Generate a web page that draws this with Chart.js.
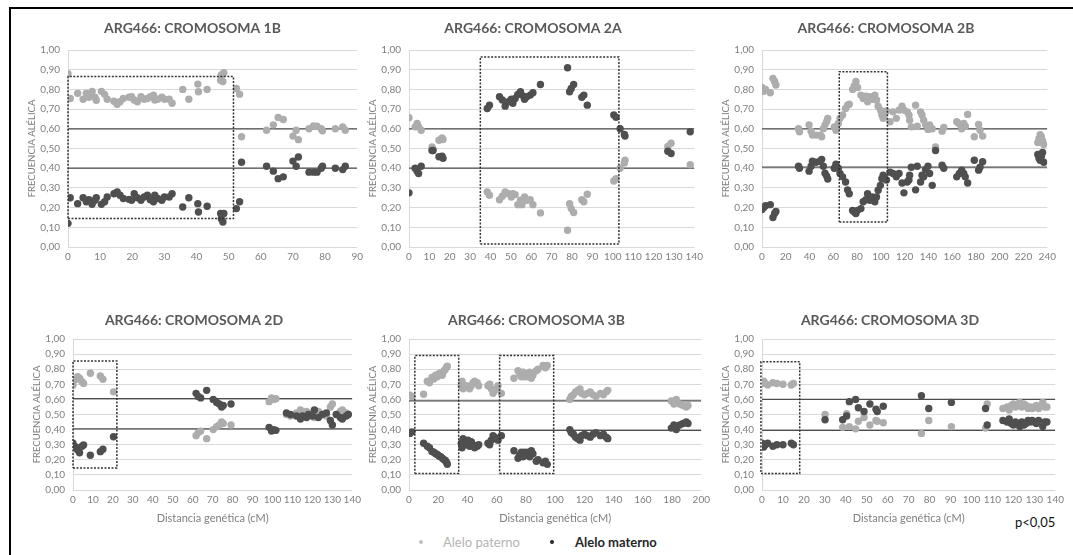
<!DOCTYPE html>
<html lang="es">
<head>
<meta charset="utf-8">
<title>ARG466: frecuencia alélica por cromosoma</title>
<script src="https://cdn.jsdelivr.net/npm/chart.js@4.4.1/dist/chart.umd.min.js"></script>
<style>
  html, body { margin: 0; padding: 0; background: #fff; }
  body { width: 1073px; height: 555px; position: relative; overflow: hidden; font-family: Lato, 'Open Sans', sans-serif; }
  .frame { position: absolute; left: 9px; top: 7px; width: 1080px; height: 560px; border-left: 2px solid #000; border-top: 2px solid #000; }
  .lg { position: absolute; font-size: 13px; line-height: 16px; white-space: nowrap; }
  .dot { position: absolute; width: 4px; height: 4px; border-radius: 50%; }
</style>
</head>
<body>
<div class="frame"></div>

<span class="dot" style="left:419px;top:540px;background:#bfbfbf"></span>
<span class="lg" style="left:443px;top:534px;color:#b4b4b4">Alelo paterno</span>
<span class="dot" style="left:550px;top:540px;background:#262626"></span>
<span class="lg" style="left:575px;top:534px;color:#262626;font-weight:bold">Alelo materno</span>
<span class="lg" style="left:1015px;top:514px;color:#111">p&lt;0,05</span>

<script>
// ---- data ----
const titles = ['ARG466: CROMOSOMA 1B', 'ARG466: CROMOSOMA 2A', 'ARG466: CROMOSOMA 2B',
                'ARG466: CROMOSOMA 2D', 'ARG466: CROMOSOMA 3B', 'ARG466: CROMOSOMA 3D'];
const yTitles = ['FRECUENCIA ALÉLICA', 'FRECUENCIA ALÉLICA', 'FRECUENCIA ALÉLICA',
                 'FRECUENCIA ALÉLICA', 'FRECUECNIA ALÉLICA', 'FRECUENCIA ALÉLICA'];
const xTitle = 'Distancia genética (cM)';
const xMax   = [90, 140, 240, 140, 200, 140];
const xStep  = [10, 10, 20, 10, 20, 10];
const yTicks = [0, 0.1, 0.2, 0.3, 0.4, 0.5, 0.6, 0.7, 0.8, 0.9, 1];

// chromosome 1B
const x1B   = [0,0.7,3,4.7,5.7,6.5,7.5,8.4,8.8,10.4, 11.4,12.2,14.3,15.3,16.2,17.2,19,19.8,20.6,21.6,
               22.7,23.7,24.7,25.6,26.6,27,27.9,29.2,30,31.5, 32.4,35.7,37.6,40.4,40.6,43.3,47.5,47.7,48.2,48.5,
               52.4,53.4,54,61.8,63.9,65.4,67,70,71,71.7, 75,76.4,77.5,78.8,79.2,83.2,85.5,86.3];
const pat1B = [0.88,0.754,0.78,0.75,0.78,0.76,0.79,0.76,0.745,0.79, 0.775,0.75,0.74,0.725,0.737,0.754,0.76,0.763,0.746,0.737,
               0.763,0.75,0.754,0.763,0.77,0.746,0.75,0.76,0.75,0.75, 0.73,0.8,0.75,0.827,0.788,0.8,0.847,0.873,0.84,0.885,
               0.805,0.776,0.56,0.593,0.62,0.657,0.647,0.563,0.593,0.545, 0.6,0.615,0.613,0.6,0.59,0.6,0.61,0.593];
const mat1B = [0.12,0.25,0.22,0.25,0.23,0.24,0.217,0.237,0.25,0.217, 0.23,0.254,0.27,0.28,0.263,0.246,0.242,0.237,0.27,0.25,
               0.237,0.254,0.263,0.24,0.23,0.263,0.246,0.237,0.254,0.254, 0.27,0.203,0.25,0.22,0.178,0.207,0.17,0.144,0.127,0.17,
               0.195,0.23,0.43,0.41,0.385,0.347,0.356,0.436,0.41,0.457, 0.38,0.38,0.38,0.4,0.41,0.4,0.393,0.41];

// chromosome 2A
const x2A   = [0,3,4,4.7,6,11.3,11.8,14.7,16.2,16.7, 38.4,39.5,44.4,45.8,47.2,48.9,50.2,51,52.1,53.4,
               54.7,55.4,56.7,57.8,59.5,60.8,64.5,77.8,78.8,79.6, 80.8,84.8,85.8,87.5,100.5,101.6,103.6,105.7,106,127,
               128.6,138];
const pat2A = [0.656,0.61,0.627,0.61,0.593,0.508,0.497,0.542,0.554,0.546, 0.28,0.263,0.24,0.258,0.28,0.27,0.254,0.27,0.266,0.215,
               0.237,0.215,0.254,0.237,0.24,0.215,0.173,0.085,0.22,0.195, 0.175,0.24,0.23,0.268,0.335,0.347,0.4,0.427,0.44,0.51,
               0.527,0.418];
const mat2A = [0.275,0.4,0.385,0.373,0.41,0.49,0.49,0.458,0.461,0.45, 0.703,0.72,0.763,0.746,0.715,0.737,0.75,0.73,0.754,0.775,
               0.788,0.771,0.75,0.763,0.771,0.783,0.825,0.91,0.788,0.805, 0.825,0.76,0.771,0.72,0.67,0.658,0.6,0.571,0.563,0.486,
               0.475,0.585];

// chromosome 2B
const x2B   = [0,1.4,3,7,9.2,10.6,11.7, 30.7,31.5,
               39.6,41.3,42.4,45.5,48.8,50.2,51.6,53,54.4,55.3,
               60.8,62.2,64.2,65.6,67.8,70.3,72,73.4,
               76.2,77.6,79,80.4,83.2,85.1,87.4,88.8,90.7,92.7,94.9,96.3,97.7,99.6,100.8,101.9,103.3,104.7,
               107.7,110.2,113,115.3,117.8,119.4,122.2,123.6,124.2,125.6,
               129.2,130.6,133.4,134.6,136,137.6,139.6,141,143.2,
               146,151.5,152.9, 163.8,166,168,169.7,171,173, 178.6,182.2,183.4,185.6,
               232,233,234,235,236,237];
const pat2B = [0.81,0.79,0.8,0.783,0.856,0.84,0.822, 0.6,0.585,
               0.62,0.588,0.568,0.568,0.568,0.56,0.6,0.62,0.636,0.653,
               0.61,0.593,0.627,0.653,0.67,0.703,0.72,0.725,
               0.8,0.817,0.84,0.81,0.771,0.754,0.766,0.737,0.763,0.75,0.771,0.746,0.715,0.695,0.67,0.653,0.678,0.69,
               0.636,0.686,0.653,0.695,0.715,0.695,0.686,0.67,0.644,0.61,
               0.72,0.613,0.686,0.67,0.644,0.62,0.597,0.62,0.6,
               0.508,0.588,0.607, 0.636,0.624,0.6,0.627,0.613,0.673, 0.56,0.622,0.593,0.563,
               0.53,0.55,0.57,0.56,0.54,0.52];
const mat2B = [0.19,0.2,0.21,0.215,0.15,0.17,0.18, 0.41,0.4,
               0.385,0.41,0.435,0.43,0.435,0.445,0.41,0.375,0.36,0.345,
               0.4,0.42,0.4,0.373,0.356,0.33,0.29,0.27,
               0.185,0.178,0.17,0.186,0.195,0.23,0.24,0.27,0.237,0.254,0.23,0.254,0.288,0.313,0.347,0.364,0.347,0.34,
               0.38,0.373,0.356,0.373,0.325,0.275,0.33,0.34,0.364,0.405,
               0.29,0.41,0.33,0.364,0.356,0.393,0.41,0.373,0.313,
               0.49,0.415,0.4, 0.356,0.373,0.39,0.373,0.356,0.325, 0.44,0.39,0.405,0.433,
               0.47,0.45,0.44,0.46,0.48,0.43];

// chromosome 2D
const x2D   = [0,1.2,2.3,3.3,4.5,5.3,8.7,13.7,15,20.3,
               61.7,62.8,64,67,70.3,72,73.3,74.5,75.3,79.2,
               98.3,99.5,100.7,101.7,
               107,109,112,114,115,117,118,120,121,123,125,127,129,130,132,134,135,137,138];
const pat2D = [0.695,0.73,0.75,0.74,0.717,0.706,0.773,0.755,0.733,0.65,
               0.36,0.38,0.39,0.34,0.40,0.42,0.43,0.45,0.44,0.43,
               0.585,0.61,0.60,0.605,
               0.50,0.49,0.51,0.53,0.50,0.52,0.49,0.51,0.48,0.52,0.50,0.49,0.55,0.57,0.50,0.52,0.53,0.51,0.50];
const mat2D = [0.31,0.287,0.265,0.247,0.29,0.298,0.23,0.254,0.27,0.353,
               0.64,0.62,0.61,0.66,0.60,0.58,0.57,0.55,0.56,0.57,
               0.415,0.39,0.40,0.395,
               0.51,0.50,0.49,0.47,0.49,0.48,0.50,0.49,0.53,0.48,0.50,0.51,0.46,0.43,0.50,0.48,0.47,0.49,0.50];

// chromosome 3B
const x3B   = [0.5,2, 10, 12.5,14,
               15.7,17,18.2,19.4,20.5,21.7,22.8,24,24.9,25.8,26.2,
               35.8,36.3,37,39.2,40.4,41.5,42.6,43.8,44.9,46.7,47.7,
               54,55.2,56.3,57.5,58.6,59.7,60.9,63.2,
               71.8,74.6,75.7,76.9,78,79.1,80.3,81.4,82.6,83.7,84.8,87.1,88.3,91.7,93.3,94.6,
               110,111,112.5,114,115.5,117,118,120,122,124,126,128,131,133,135,136,
               179.5,181.3,182.9,185.2,187.5,189.7,190.9];
const pat3B = [0.627,0.62, 0.634, 0.72,0.71,
               0.745,0.735,0.76,0.75,0.77,0.775,0.76,0.79,0.8,0.815,0.82,
               0.69,0.72,0.67,0.69,0.68,0.67,0.69,0.71,0.72,0.71,0.69,
               0.69,0.70,0.67,0.64,0.66,0.67,0.69,0.64,
               0.74,0.79,0.77,0.75,0.78,0.75,0.77,0.75,0.78,0.74,0.76,0.79,0.8,0.825,0.81,0.825,
               0.60,0.62,0.63,0.65,0.66,0.67,0.64,0.63,0.64,0.65,0.63,0.62,0.64,0.63,0.65,0.66,
               0.59,0.57,0.6,0.57,0.56,0.55,0.56];
const mat3B = [0.375,0.385, 0.31, 0.29,0.28,
               0.255,0.25,0.24,0.235,0.225,0.22,0.21,0.2,0.195,0.18,0.17,
               0.31,0.28,0.34,0.3,0.33,0.29,0.32,0.3,0.28,0.29,0.3,
               0.31,0.30,0.33,0.36,0.35,0.34,0.33,0.36,
               0.26,0.21,0.23,0.25,0.22,0.25,0.23,0.25,0.22,0.26,0.24,0.19,0.2,0.18,0.19,0.17,
               0.40,0.38,0.37,0.35,0.34,0.33,0.36,0.37,0.36,0.35,0.37,0.38,0.36,0.37,0.35,0.34,
               0.41,0.43,0.40,0.43,0.44,0.45,0.44];

// chromosome 3D
const x3D   = [0,0.8,1.6,2.7,5.2,7.1,10,14,15,
               30.1,38.5,40.4,41.7,44.7,46,48.7,51.5,54.4,55,57.9,
               76.1,79.6,90.4,106.7,107.5,
               115,117,118,119,120,121,122,123,124,125,126,127,128,129,130,131,132,134,135,136];
const pat3D = [0.705,0.72,0.705,0.695,0.71,0.705,0.70,0.695,0.705,
               0.50,0.415,0.505,0.42,0.405,0.455,0.48,0.43,0.46,0.455,0.445,
               0.375,0.46,0.42,0.41,0.57,
               0.54,0.55,0.53,0.56,0.57,0.55,0.56,0.58,0.55,0.57,0.56,0.54,0.55,0.54,0.55,0.56,0.54,0.58,0.55,0.55];
const mat3D = [0.31,0.285,0.30,0.31,0.29,0.30,0.30,0.31,0.30,
               0.465,0.465,0.49,0.585,0.60,0.545,0.52,0.57,0.535,0.52,0.555,
               0.625,0.54,0.58,0.54,0.43,
               0.46,0.45,0.47,0.44,0.43,0.45,0.44,0.42,0.45,0.43,0.44,0.46,0.45,0.46,0.45,0.44,0.46,0.42,0.45,0.45];

// dotted boxes (x from, x to, y from, y to) and the two reference levels
const box1B = [[0, 51.5, 0.145, 0.865]];
const box2A = [[35, 103, 0.015, 0.965]];
const box2B = [[65, 105.5, 0.127, 0.89]];
const box2D = [[0, 22, 0.145, 0.855]];
const box3B = [[4, 34, 0.11, 0.89], [62, 99, 0.11, 0.89]];
const box3D = [[-0.5, 18, 0.11, 0.85]];
const refLines = [[0.6, 0.4], [0.6, 0.4], [0.6, 0.405], [0.605, 0.405], [0.59, 0.395], [0.6, 0.395]];

const xs   = [x1B, x2A, x2B, x2D, x3B, x3D];
const pats = [pat1B, pat2A, pat2B, pat2D, pat3B, pat3D];
const mats = [mat1B, mat2A, mat2B, mat2D, mat3B, mat3D];
const boxes = [box1B, box2A, box2B, box2D, box3B, box3D];

// ---- layout: plot area of each panel in page pixels (left, top, right, bottom) ----
const AREAS = [
  [68, 50, 355, 247], [409, 50, 695, 247], [762, 50, 1048, 247],
  [73, 339, 353, 490], [409, 339, 702, 490], [762, 339, 1056, 490],
];
const YW = 50, PR = 12, TH = 32;
const PAT_COLOR = '#adadad', MAT_COLOR = '#4f4f4f';
const FONT = "Lato, 'Open Sans', sans-serif";

const pts = (x, y) => x.map((v, i) => ({ x: v, y: y[i] }));

function makePanel(i) {
  const [l, t, r, b] = AREAS[i];
  const bottomRow = i >= 3;
  const XH = bottomRow ? 38 : 20;
  const w = r - l + YW + PR, h = b - t + TH + XH;

  const cv = document.createElement('canvas');
  cv.width = w; cv.height = h;
  cv.style.cssText = `position:absolute;left:${l - YW}px;top:${t - TH}px;width:${w}px;height:${h}px`;
  document.body.appendChild(cv);

  const boxSets = boxes[i].map(([x1, x2, y1, y2]) => ({
    data: [{x: x1, y: y1}, {x: x2, y: y1}, {x: x2, y: y2}, {x: x1, y: y2}, {x: x1, y: y1}],
    showLine: true, pointRadius: 0, borderColor: '#333333', borderWidth: 1.5,
    borderDash: [2, 1.5], clip: false,
  }));
  const lineSets = refLines[i].map(v => ({
    data: [{x: 0, y: v}, {x: xMax[i], y: v}],
    showLine: true, pointRadius: 0, borderColor: '#4d4d4d', borderWidth: 1.2,
  }));

  new Chart(cv, {
    type: 'scatter',
    data: {
      datasets: [
        ...boxSets,
        { data: pts(xs[i], mats[i]), backgroundColor: MAT_COLOR, pointRadius: 3.7, borderWidth: 0 },
        { data: pts(xs[i], pats[i]), backgroundColor: PAT_COLOR, pointRadius: 3.7, borderWidth: 0 },
        ...lineSets,
      ],
    },
    options: {
      responsive: false,
      animation: false,
      devicePixelRatio: 1,
      events: [],
      layout: { padding: 0 },
      plugins: {
        legend: { display: false },
        tooltip: { enabled: false },
        title: {
          display: true,
          text: titles[i],
          color: '#595959',
          font: { family: FONT, size: 14, weight: 'bold' },
          padding: bottomRow ? { top: 4.6, bottom: 10.6 } : { top: 1.6, bottom: 13.6 },
        },
      },
      scales: {
        x: {
          type: 'linear', min: 0, max: xMax[i],
          afterFit: s => { s.height = XH; },
          grid: { display: false, drawTicks: false },
          border: { display: false },
          ticks: { stepSize: xStep[i], autoSkip: false, maxRotation: 0, padding: 4,
                   color: '#7f7f7f', font: { family: FONT, size: 10 } },
          title: { display: bottomRow, text: xTitle, color: '#7f7f7f',
                   font: { family: FONT, size: 11 }, padding: { top: 0, bottom: 3.4 } },
        },
        y: {
          min: 0, max: 1,
          afterFit: s => { s.width = YW; },
          afterBuildTicks: s => { s.ticks = yTicks.map(v => ({ value: v })); },
          grid: { color: '#d9d9d9', drawTicks: false },
          border: { display: true, color: '#d9d9d9' },
          ticks: { padding: 8, color: '#7f7f7f', font: { family: FONT, size: 10 },
                   callback: v => v.toFixed(2).replace('.', ',') },
          title: { display: true, text: yTitles[i], color: '#7f7f7f',
                   font: { family: FONT, size: 9.5 }, padding: { top: 8.3, bottom: 0 } },
        },
      },
    },
  });
}

for (let i = 0; i < 6; i++) makePanel(i);
</script>
</body>
</html>
